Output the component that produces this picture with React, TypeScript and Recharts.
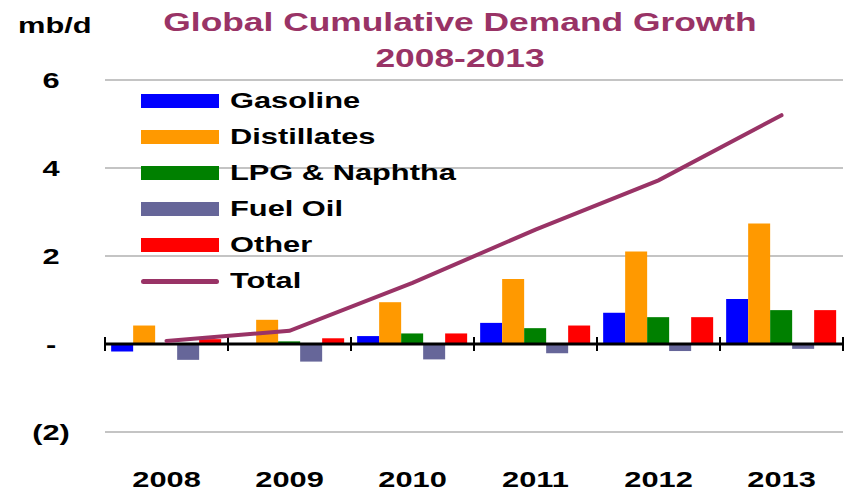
import React from "react";
import { ComposedChart, Bar, Line, XAxis, YAxis, CartesianGrid, ReferenceLine } from "recharts";

const years = ["2008", "2009", "2010", "2011", "2012", "2013"];
const gasoline = [-0.17, 0.0, 0.18, 0.48, 0.71, 1.02];
const distillates = [0.42, 0.55, 0.95, 1.48, 2.1, 2.74];
const lpgNaphtha = [0.0, 0.06, 0.24, 0.36, 0.61, 0.77];
const fuelOil = [-0.36, -0.4, -0.35, -0.21, -0.16, -0.11];
const other = [0.11, 0.13, 0.24, 0.42, 0.61, 0.77];
const total = [0.07, 0.3, 1.39, 2.6, 3.72, 5.2];
const yTicks = [-2, 0, 2, 4, 6];

const FONT = "'Liberation Sans', Arial, sans-serif";
const SX = 1.4; // the original text is stretched horizontally
const TITLE_COLOR = "#993366";

const barSeries = [
  { key: "gasoline", name: "Gasoline", color: "#0000FF" },
  { key: "distillates", name: "Distillates", color: "#FF9900" },
  { key: "lpg", name: "LPG & Naphtha", color: "#008000" },
  { key: "fuelOil", name: "Fuel Oil", color: "#666699" },
  { key: "other", name: "Other", color: "#FF0000" },
];
const lineSeries = { key: "total", name: "Total", color: "#993366" };

const data = years.map((year, i) => ({
  year,
  gasoline: gasoline[i],
  distillates: distillates[i],
  lpg: lpgNaphtha[i],
  fuelOil: fuelOil[i],
  other: other[i],
  total: total[i],
}));

const fmtY = (v: number) => (v === 0 ? "-" : v < 0 ? `(${-v})` : String(v));

// eslint-disable-next-line @typescript-eslint/no-explicit-any
function YTick({ y, payload }: any) {
  return (
    <text transform={`translate(51, ${y + 8}) scale(${SX},1)`} textAnchor="middle"
      fontSize={22} fontWeight="bold" fontFamily={FONT} fill="#000">
      {fmtY(payload.value)}
    </text>
  );
}

// eslint-disable-next-line @typescript-eslint/no-explicit-any
function XTick({ x, y, payload }: any) {
  return (
    <text transform={`translate(${x}, ${y + 55}) scale(${SX},1)`} textAnchor="middle"
      fontSize={22} fontWeight="bold" fontFamily={FONT} fill="#000">
      {payload.value}
    </text>
  );
}

// zero line with category boundary ticks
// eslint-disable-next-line @typescript-eslint/no-explicit-any
function ZeroAxis(p: any) {
  const { x1, x2, y1 } = p;
  const n = years.length;
  const step = (x2 - x1) / n;
  return (
    <g>
      <line x1={x1} x2={x2} y1={y1} y2={y1} stroke="#000" strokeWidth={3} />
      {Array.from({ length: n + 1 }, (_, i) => (
        <line key={i} x1={x1 + i * step} x2={x1 + i * step} y1={y1 - 7} y2={y1 + 7} stroke="#000" strokeWidth={2} />
      ))}
    </g>
  );
}

function LegendBox() {
  const items = [...barSeries.map((s) => ({ ...s, line: false })), { ...lineSeries, line: true }];
  return (
    <div style={{ position: "absolute", left: 141, top: 83, fontFamily: FONT }}>
      {items.map((it) => (
        <div key={it.key} style={{ height: 36, display: "flex", alignItems: "center" }}>
          <div style={{ width: 78, height: it.line ? 5 : 14, borderRadius: it.line ? 3 : 0, background: it.color }} />
          <span style={{ marginLeft: 11, fontSize: 22, fontWeight: "bold", display: "inline-block",
            transform: `scaleX(${SX})`, transformOrigin: "left center", whiteSpace: "nowrap" }}>
            {it.name}
          </span>
        </div>
      ))}
    </div>
  );
}

export default function App() {
  return (
    <div style={{ position: "fixed", left: 0, top: 0, width: 848, height: 492, background: "#fff", overflow: "hidden" }}>
      <div style={{ position: "absolute", left: 18, top: 13, fontFamily: FONT, fontSize: 22, fontWeight: "bold",
        transform: `scaleX(${SX})`, transformOrigin: "left center" }}>mb/d</div>
      <div style={{ position: "absolute", left: 160, width: 600, top: 4, textAlign: "center", fontFamily: FONT,
        fontSize: 26, lineHeight: "36px", fontWeight: "bold", color: TITLE_COLOR, transform: `scaleX(1.36)` }}>
        Global Cumulative Demand Growth
        <br />
        2008-2013
      </div>
      <ComposedChart width={848} height={492} data={data}
        margin={{ top: 80, right: 5, bottom: 10, left: 0 }}
        barCategoryGap="5%" barGap={0}>
        <CartesianGrid vertical={false} stroke="#c4c4c4" strokeWidth={2} />
        <YAxis domain={[-2, 6]} ticks={yTicks} width={105} axisLine={false} tickLine={false}
          tick={<YTick />} interval={0} />
        <XAxis dataKey="year" height={50} axisLine={false} tickLine={false} tickSize={0}
          tickMargin={0} tick={<XTick />} interval={0} />
        {barSeries.map((s) => (
          <Bar key={s.key} dataKey={s.key} name={s.name} fill={s.color} isAnimationActive={false} />
        ))}
        <ReferenceLine y={0} shape={ZeroAxis} />
        <Line type="linear" dataKey={lineSeries.key} name={lineSeries.name} stroke={lineSeries.color}
          strokeWidth={4} strokeLinecap="round" dot={false} isAnimationActive={false} />
      </ComposedChart>
      <LegendBox />
    </div>
  );
}
